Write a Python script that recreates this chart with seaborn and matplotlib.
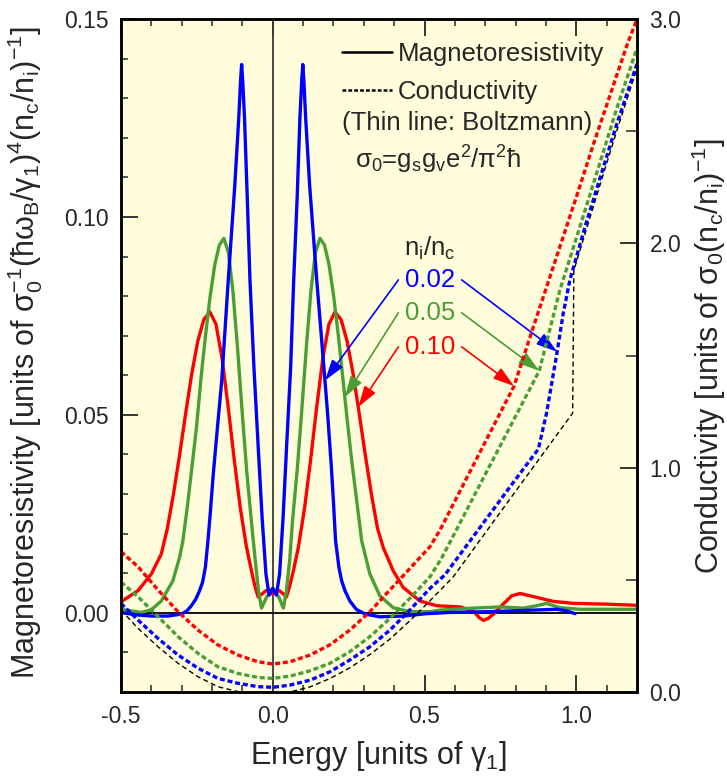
"""
plot.py
=======
Magnetoresistivity (solid, left axis) and conductivity (dashed, right axis)
versus energy for three impurity concentrations n_i/n_c.
"""

import matplotlib
matplotlib.use('Agg')
import matplotlib.pyplot as plt
import seaborn as sns
from matplotlib.lines import Line2D
from matplotlib.ticker import MultipleLocator, FormatStrFormatter, FixedLocator

RED = '#FF0000'
GREEN = '#4A9E35'
BLUE = '#0000FF'
BG = '#FFFDDC'

# ─────────────────────────────────────────────────────────────────────────────
# Data
# ─────────────────────────────────────────────────────────────────────────────

# magnetoresistivity, n_i/n_c = 0.02
mr_x_002 = [-0.50, -0.45, -0.40, -0.345, -0.30, -0.283, -0.268, -0.254, -0.241, -0.231,
            -0.222, -0.2135, -0.206, -0.196, -0.182, -0.168, -0.1466, -0.125, -0.112,
            -0.106, -0.1025, -0.099, -0.093, -0.084, -0.075, -0.062, -0.0478, -0.035,
            -0.0224, -0.012, -0.005, 0.0, 0.005, 0.012, 0.0225, 0.034, 0.0455, 0.059,
            0.069, 0.0805, 0.0895, 0.0955, 0.099, 0.1025, 0.1085, 0.1215, 0.145, 0.172,
            0.182, 0.193, 0.2, 0.207, 0.218, 0.227, 0.238, 0.254, 0.275, 0.304, 0.353,
            0.43, 0.507, 0.584, 0.716, 0.858, 0.935, 0.968, 0.996]
mr_y_002 = [0.0001, -0.0005, -0.0008, -0.0008, -0.0003, 0.0005, 0.0018, 0.0034, 0.0056, 0.0078,
            0.0115, 0.0182, 0.025, 0.035, 0.047, 0.0587, 0.084, 0.108, 0.125,
            0.1345, 0.1385, 0.1345, 0.125, 0.105, 0.084, 0.062, 0.0418, 0.024,
            0.0098, 0.0045, 0.0055, 0.0062, 0.0055, 0.0045, 0.0098, 0.024, 0.0418, 0.062,
            0.084, 0.105, 0.125, 0.1345, 0.1385, 0.1345, 0.125, 0.108, 0.084, 0.0587,
            0.049, 0.037, 0.028, 0.0182, 0.0115, 0.0081, 0.0056, 0.003, 0.0009, -0.0003, -0.001,
            -0.0008, -0.0002, 0.0001, 0.0003, 0.0007, 0.0009, 0.0005, -0.0002]

# magnetoresistivity, n_i/n_c = 0.05
mr_x_005 = [-0.50, -0.433, -0.40, -0.367, -0.329, -0.307, -0.296, -0.281, -0.266, -0.251,
            -0.236, -0.221, -0.206, -0.191, -0.176, -0.161, -0.146, -0.131, -0.116,
            -0.101, -0.086, -0.071, -0.058, -0.047, -0.037, -0.02, 0.0, 0.02, 0.035,
            0.045, 0.056, 0.0655, 0.0805, 0.0955, 0.1105, 0.1255, 0.1405, 0.1555,
            0.1705, 0.1855, 0.2005, 0.2155, 0.2305, 0.2455, 0.2605, 0.2755, 0.293,
            0.32, 0.353, 0.397, 0.452, 0.518, 0.551, 0.661, 0.749, 0.825, 0.87, 0.902,
            0.946, 1.012, 1.2]
mr_y_005 = [0.0009, 0.0001, 0.0008, 0.003, 0.0081, 0.014, 0.0182, 0.027, 0.037, 0.047,
            0.0596, 0.0704, 0.0801, 0.0879, 0.0929, 0.0946, 0.091, 0.0811, 0.0669,
            0.051, 0.036, 0.0236, 0.0135, 0.0055, 0.0012, 0.004, 0.0062, 0.004, 0.0012,
            0.0055, 0.0135, 0.0236, 0.036, 0.051, 0.0669, 0.0811, 0.091, 0.0946,
            0.0929, 0.0879, 0.0801, 0.0704, 0.0596, 0.0486, 0.0382, 0.029, 0.0182,
            0.0098, 0.0043, 0.0013, 0.0003, 0.0003, 0.0007, 0.0012, 0.0015, 0.0012, 0.0018, 0.0024,
            0.0013, 0.0009, 0.0009]

# magnetoresistivity, n_i/n_c = 0.10
mr_x_010 = [-0.50, -0.444, -0.40, -0.367, -0.347, -0.327, -0.307, -0.287, -0.267, -0.247,
            -0.227, -0.207, -0.187, -0.167, -0.147, -0.127, -0.107, -0.087, -0.07,
            -0.058, -0.048, -0.035, -0.02, 0.0, 0.02, 0.035, 0.045, 0.055, 0.068,
            0.085, 0.105, 0.125, 0.145, 0.165, 0.185, 0.205, 0.225, 0.245, 0.265,
            0.285, 0.305, 0.325, 0.345, 0.364, 0.397, 0.43, 0.485, 0.54, 0.617, 0.661,
            0.68, 0.694, 0.71, 0.727, 0.759, 0.787, 0.815, 0.87, 0.924, 0.99, 1.1, 1.2]
mr_y_010 = [0.0028, 0.0056, 0.0098, 0.0149, 0.0214, 0.030, 0.0398, 0.0503, 0.0603, 0.0686,
            0.0741, 0.076, 0.0729, 0.0643, 0.0521, 0.0388, 0.0266, 0.0168, 0.0106,
            0.0065, 0.004, 0.0048, 0.0057, 0.0047, 0.0057, 0.0048, 0.004, 0.0065, 0.0106,
            0.0168, 0.0266, 0.0388, 0.0521, 0.0643, 0.0729, 0.076, 0.0741, 0.0686, 0.0603,
            0.0503, 0.0398, 0.030, 0.0214, 0.0165, 0.0106, 0.0064, 0.003, 0.0018, 0.0015, 0.0005,
            -0.0012, -0.0019, -0.0014, -0.0003, 0.0022, 0.0043, 0.0049, 0.0039, 0.0029, 0.0024,
            0.0022, 0.0019]

# conductivity, n_i/n_c = 0.02
cond_x_002 = [-0.50, -0.444, -0.378, -0.312, -0.246, -0.181, -0.115, -0.049, 0.0,
              0.057, 0.123, 0.188, 0.254, 0.32, 0.386, 0.452, 0.518, 0.567, 0.70,
              0.80, 0.875, 0.902, 0.937, 0.957, 0.979, 1.028, 1.078, 1.133, 1.2]
cond_y_002 = [0.395, 0.321, 0.239, 0.165, 0.106, 0.061, 0.039, 0.024, 0.021,
              0.031, 0.053, 0.09, 0.143, 0.202, 0.276, 0.366, 0.462, 0.522, 0.765,
              0.948, 1.083, 1.243, 1.517, 1.688, 1.837, 2.07, 2.29, 2.53, 2.80]

# conductivity, n_i/n_c = 0.05
cond_x_005 = [-0.50, -0.444, -0.378, -0.312, -0.246, -0.181, -0.115, -0.049, 0.0,
              0.057, 0.123, 0.188, 0.254, 0.32, 0.386, 0.452, 0.518, 0.556, 0.617,
              0.683, 0.749, 0.815, 0.878, 0.946, 0.99, 1.034, 1.078, 1.133, 1.2]
cond_y_005 = [0.49, 0.425, 0.336, 0.247, 0.172, 0.113, 0.083, 0.065, 0.061,
              0.071, 0.095, 0.128, 0.18, 0.247, 0.328, 0.418, 0.514, 0.596, 0.754,
              0.926, 1.097, 1.268, 1.432, 1.792, 1.98, 2.17, 2.36, 2.60, 2.87]

# conductivity, n_i/n_c = 0.10
cond_x_010 = [-0.50, -0.444, -0.378, -0.312, -0.246, -0.181, -0.115, -0.049, 0.0,
              0.057, 0.123, 0.188, 0.254, 0.32, 0.386, 0.452, 0.518, 0.551, 0.617,
              0.683, 0.749, 0.795, 0.858, 0.913, 1.001, 1.056, 1.111, 1.166, 1.2]
cond_y_010 = [0.626, 0.559, 0.455, 0.358, 0.276, 0.21, 0.165, 0.135, 0.125,
              0.135, 0.165, 0.21, 0.276, 0.358, 0.455, 0.551, 0.648, 0.722, 0.896,
              1.07, 1.243, 1.364, 1.625, 1.85, 2.21, 2.44, 2.66, 2.88, 3.0]

# conductivity, Boltzmann (thin black)
cond_x_boltz = [-0.50, -0.444, -0.378, -0.312, -0.246, -0.181, -0.115, -0.049, 0.0,
                0.057, 0.123, 0.188, 0.254, 0.32, 0.386, 0.452, 0.518, 0.595, 0.70,
                0.80, 0.90, 0.988, 0.992, 1.078, 1.133, 1.2]
cond_y_boltz = [0.366, 0.284, 0.202, 0.128, 0.068, 0.024, 0.002, -0.012, -0.014,
                0.0, 0.023, 0.06, 0.108, 0.167, 0.236, 0.318, 0.407, 0.514, 0.709,
                0.895, 1.08, 1.243, 1.88, 2.26, 2.50, 2.78]

# n_i/n_c labels and arrows (left-axis units, right tips in right-axis units)
ni_labels = ['0.02', '0.05', '0.10']
ni_colors = [BLUE, GREEN, RED]
label_x = 0.518
label_y = [0.0841, 0.0758, 0.0672]
header_y = 0.0921
left_tail_x = 0.414
left_tip_x = [0.172, 0.2375, 0.2817]
left_tip_y = [0.0587, 0.0545, 0.052]
right_tail_x = 0.6224
right_tip_x = [0.937, 0.878, 0.795]
right_tip_y = [1.517, 1.432, 1.364]

# ─────────────────────────────────────────────────────────────────────────────
# Style
# ─────────────────────────────────────────────────────────────────────────────
sns.set_style('ticks')
plt.rcParams['font.family'] = ['Liberation Sans', 'DejaVu Sans']
plt.rcParams['mathtext.fontset'] = 'custom'
plt.rcParams['mathtext.rm'] = 'Liberation Sans'
plt.rcParams['mathtext.it'] = 'Liberation Sans'
plt.rcParams['mathtext.default'] = 'regular'
plt.rcParams['axes.edgecolor'] = 'black'

TICK_FS = 16.5
LABEL_FS = 22
TEXT_FS = 18.5
LW = 2.4
DASH = (0, (1.5, 0.85))
THIN_DASH = (0, (3.6, 2.4))

fig = plt.figure(figsize=(7.27, 7.76), dpi=100)
ax = fig.add_axes([0.1664, 0.1082, 0.7098, 0.8673])
ax.set_facecolor(BG)
ax2 = ax.twinx()

ax.axvline(0, color='#3a3a3a', lw=1.3, zorder=1)
ax.axhline(0, color='black', lw=1.3, zorder=1)

# ── solid: magnetoresistivity ────────────────────────────────────────────────
for xs, ys, c in [(mr_x_010, mr_y_010, RED), (mr_x_005, mr_y_005, GREEN),
                  (mr_x_002, mr_y_002, BLUE)]:
    sns.lineplot(x=xs, y=ys, ax=ax, color=c, lw=LW, sort=False, estimator=None)

# ── dashed: conductivity ─────────────────────────────────────────────────────
sns.lineplot(x=cond_x_boltz, y=cond_y_boltz, ax=ax2, color='black', lw=1.0,
             linestyle=THIN_DASH, sort=False, estimator=None)
for xs, ys, c in [(cond_x_010, cond_y_010, RED), (cond_x_005, cond_y_005, GREEN),
                  (cond_x_002, cond_y_002, BLUE)]:
    sns.lineplot(x=xs, y=ys, ax=ax2, color=c, lw=LW, linestyle=DASH,
                 sort=False, estimator=None)

# ── axes ─────────────────────────────────────────────────────────────────────
ax.set_xlim(-0.5, 1.2)
ax.set_ylim(-0.02, 0.15)
ax2.set_ylim(0, 3.0)

ax.xaxis.set_major_locator(FixedLocator([-0.5, 0.0, 0.5, 1.0]))
ax.xaxis.set_minor_locator(MultipleLocator(0.1))
ax.xaxis.set_major_formatter(FormatStrFormatter('%.1f'))
ax.yaxis.set_major_locator(FixedLocator([0.0, 0.05, 0.10, 0.15]))
ax.yaxis.set_minor_locator(MultipleLocator(0.01))
ax.yaxis.set_major_formatter(FormatStrFormatter('%.2f'))
ax2.yaxis.set_major_locator(FixedLocator([0.0, 1.0, 2.0, 3.0]))
ax2.yaxis.set_minor_locator(MultipleLocator(0.5))
ax2.yaxis.set_major_formatter(FormatStrFormatter('%.1f'))

ax.tick_params(which='major', direction='in', length=12, width=1.3,
               labelsize=TICK_FS, pad=9, top=True, right=False)
ax.tick_params(which='minor', direction='in', length=5, width=1.1, top=True, right=False)
ax2.tick_params(which='major', direction='in', length=12, width=1.3,
                labelsize=TICK_FS, pad=9)
ax2.tick_params(which='minor', direction='in', length=8, width=1.1)
for a in (ax, ax2):
    for s in a.spines.values():
        s.set_linewidth(1.8)
        s.set_color('black')

ax.set_xlabel(r'Energy [units of γ$_1$]', fontsize=LABEL_FS, labelpad=8)
ax.set_ylabel(r'Magnetoresistivity [units of $σ_0^{-1}(ħω_B/γ_1)^4(n_c/n_i)^{-1}$]',
              fontsize=LABEL_FS)
ax.yaxis.set_label_coords(-0.148, 0.505)
ax2.set_ylabel(r'Conductivity [units of $σ_0(n_c/n_i)^{-1}$]',
               fontsize=LABEL_FS, labelpad=6)

# ── legend and notes ─────────────────────────────────────────────────────────
handles = [Line2D([], [], color='black', lw=1.8),
           Line2D([], [], color='black', lw=1.8, linestyle=DASH)]
ax.legend(handles, ['Magnetoresistivity', 'Conductivity'], loc='upper left',
          bbox_to_anchor=(0.4277, 0.966), frameon=False, fontsize=TEXT_FS,
          handlelength=1.95, handletextpad=0.25, labelspacing=0.53,
          borderpad=0, borderaxespad=0)
ax.text(0.4277, 0.8455, '(Thin line: Boltzmann)', transform=ax.transAxes,
        fontsize=TEXT_FS, va='center', ha='left')
ax.text(0.4535, 0.7905, r'σ$_0$=g$_s$g$_v$e$^2$/π$^2$ħ', transform=ax.transAxes,
        fontsize=TEXT_FS, va='center', ha='left')

ax.text(label_x, header_y, r'n$_i$/n$_c$', fontsize=TEXT_FS, ha='center', va='center')
for i, lab in enumerate(ni_labels):
    c = ni_colors[i]
    ax.text(label_x, label_y[i], lab, color=c, fontsize=TEXT_FS, ha='center', va='center')
    arrow = dict(arrowstyle='-|>,head_length=0.8,head_width=0.25', color=c, lw=1.2,
                 shrinkA=0, shrinkB=0, mutation_scale=16)
    ax.annotate('', xy=(left_tip_x[i], left_tip_y[i]),
                xytext=(left_tail_x, label_y[i]), arrowprops=arrow)
    ax.annotate('', xy=(right_tip_x[i], right_tip_y[i]), xycoords=ax2.transData,
                xytext=(right_tail_x, label_y[i]), textcoords='data', arrowprops=arrow)

fig.savefig('out.png', dpi=100)
